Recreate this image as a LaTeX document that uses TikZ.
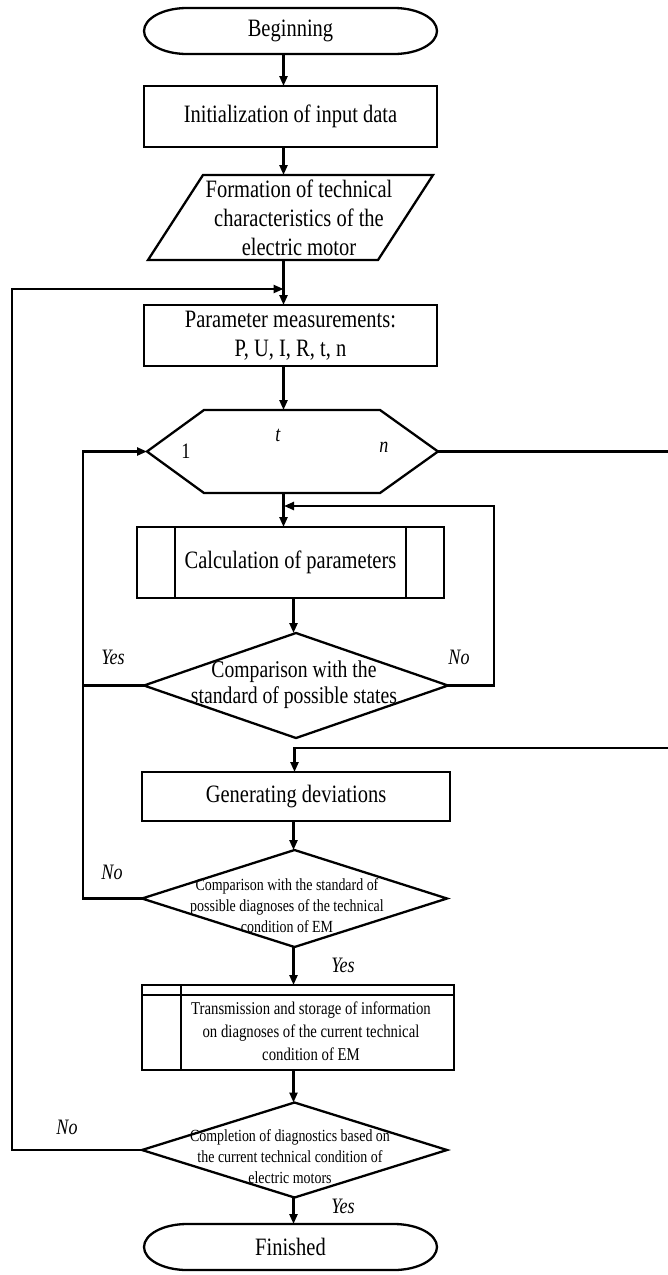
\documentclass[tikz,border=0pt]{standalone}
\usepackage{fontspec}
\setmainfont{Liberation Serif}[FakeStretch=0.82]
\usetikzlibrary{arrows.meta,calc,shapes.geometric}
\newcommand\fbig{\fontsize{25}{29}\selectfont}
\newcommand\fmid{\fontsize{24}{26}\selectfont}
\newcommand\fsmall{\fontsize{17}{21}\selectfont}
\newcommand\ftrans{\fontsize{18}{23}\selectfont}
\newcommand\flab{\fontsize{22}{26}\selectfont\itshape}
% terminal with elliptical ends, drawn around a named node
\newcommand\termshape[1]{%
  \draw[flow] ($(#1.north west)+(43,0)$) -- ($(#1.north east)+(-43,0)$)
    arc[start angle=-90,end angle=90,x radius=43,y radius=23]
    -- ($(#1.south west)+(43,0)$)
    arc[start angle=90,end angle=270,x radius=43,y radius=23] -- cycle;}
\begin{document}
\begin{tikzpicture}[x=1pt,y=-1pt,
  flow/.style={line width=2.3pt},
  arr/.style={flow,-{Triangle[length=10pt,width=8pt]}},
  plain/.style={inner sep=0pt,outer sep=0pt,align=center},
  box/.style={plain,draw,line width=2.3pt},
  dec/.style={plain,draw,diamond,line width=2.3pt},
  lab/.style={inner sep=0pt,font=\flab}]
\useasboundingbox (0,0) rectangle (668,1275);

% spine and loop coordinates
\coordinate (sp1) at (283.5,0);
\coordinate (sp2) at (293.5,0);
\coordinate (sp3) at (294.5,0);
\coordinate (lx) at (12,0);
\coordinate (lx2) at (83,0);
\coordinate (rx) at (494,0);
\coordinate (rr) at (672,748);
\coordinate (jn) at (283.5,289);
\coordinate (jc) at (284,506);

% blocks
\node[plain,minimum width=293pt,minimum height=46pt,font=\fbig] (beg) at (290.5,31) {Beginning};
\termshape{beg}
\node[box,minimum width=293pt,minimum height=61pt,font=\fbig] (init) at (290.5,116.5) {Initialization of input data};
\node[plain,minimum width=230pt,minimum height=85pt,font=\fbig] (form) at (299,217.5)
  {Formation of technical\\characteristics of the\\electric motor};
\draw[flow] ($(form.north west)+(19,0)$) -- ($(form.north east)+(19,0)$)
  -- ($(form.south east)+(-36,0)$) -- ($(form.south west)+(-36,0)$) -- cycle;
\node[box,minimum width=293pt,minimum height=61pt,font=\fbig] (pm) at (290.5,335.5)
  {Parameter measurements:\\P, U, I, R, t, n};

% loop hexagon
\node[plain,minimum width=291pt,minimum height=83pt] (hex) at (292.5,451.5) {};
\draw[flow] (hex.west) -- ($(hex.north west)+(57,0)$) -- ($(hex.north east)+(-58,0)$)
  -- (hex.east) -- ($(hex.south east)+(-58,0)$) -- ($(hex.south west)+(57,0)$) -- cycle;
\node[inner sep=0pt,font=\fontsize{22}{26}\selectfont] (hexa) at (186,451) {1};
\node[lab] (hext) at (278,435) {t};
\node[lab] (hexn) at (384,447) {n};

\node[box,minimum width=307pt,minimum height=71pt,font=\fbig] (calc) at (290.5,562.5) {Calculation of parameters};
\draw[flow] ($(calc.north west)+(38,0)$) -- ($(calc.south west)+(38,0)$);
\draw[flow] ($(calc.north east)+(-38,0)$) -- ($(calc.south east)+(-38,0)$);

\node[dec,minimum width=304pt,minimum height=105pt] (dec1) at (296,685.5) {};
\node[plain,font=\fmid] (dec1t) at (294,685) {Comparison with the\\standard of possible states};

\node[box,minimum width=308pt,minimum height=49pt,font=\fbig] (dev) at (296,796.5) {Generating deviations};

\node[dec,minimum width=305pt,minimum height=97pt] (dec2) at (294.5,898.5) {};
\node[plain,font=\fsmall] (dec2t) at (287,906)
  {Comparison with the standard of\\possible diagnoses of the technical\\condition of EM};

\node[box,minimum width=312pt,minimum height=85pt] (trans) at (298,1027.5) {};
\draw[flow] ($(trans.north west)+(0,10)$) -- ($(trans.north east)+(0,10)$);
\draw[flow] ($(trans.north west)+(39,0)$) -- ($(trans.south west)+(39,0)$);
\node[plain,font=\ftrans] (transt) at (311,1031)
  {Transmission and storage of information\\on diagnoses of the current technical\\condition of EM};

\node[dec,minimum width=305pt,minimum height=95pt] (dec3) at (294.5,1150) {};
\node[plain,font=\fsmall] (dec3t) at (290,1157)
  {Completion of diagnostics based on\\the current technical condition of\\electric motors};

\node[plain,minimum width=293pt,minimum height=46pt,font=\fbig] (fin) at (290.5,1247) {Finished};
\termshape{fin}

% main flow
\draw[arr] (beg.south -| sp1) -- (init.north -| sp1);
\draw[arr] (init.south -| sp1) -- (form.north -| sp1);
\draw[arr] (form.south -| sp1) -- (pm.north -| sp1);
\draw[arr] (pm.south -| sp1) -- (hex.north -| sp1);
\draw[arr] (hex.south -| sp1) -- (calc.north -| sp1);
\draw[arr] (calc.south -| sp2) -- (dec1.north -| sp2);
\draw[arr] (dev.south -| sp2) -- (dec2.north -| sp2);
\draw[arr] (dec2.south -| sp2) -- (trans.north -| sp2);
\draw[arr] (trans.south -| sp2) -- (dec3.north -| sp2);
\draw[arr] (dec3.south -| sp2) -- (fin.north -| sp2);

% loops
\draw[arr] (dec1.east) -- (dec1.east -| rx) -- (rx |- jc) -- (jc);
\draw[flow] (dec1.west) -- (dec1.west -| lx2);
\draw[arr] (dec2.west) -- (dec2.west -| lx2) -- (lx2 |- hex.west) -- (hex.west);
\draw[arr] (hex.east) -- (hex.east -| rr) -- (rr) -- (rr -| sp3) -- (dev.north -| sp3);
\draw[arr] (dec3.west) -- (dec3.west -| lx) -- (lx |- jn) -- (jn);

% branch labels
\node[lab] (y1) at (113,657) {Yes};
\node[lab] (n1) at (459,657) {No};
\node[lab] (n2) at (112,872) {No};
\node[lab] (y2) at (343,965) {Yes};
\node[lab] (n3) at (67,1127) {No};
\node[lab] (y3) at (343,1206) {Yes};
\end{tikzpicture}
\end{document}
